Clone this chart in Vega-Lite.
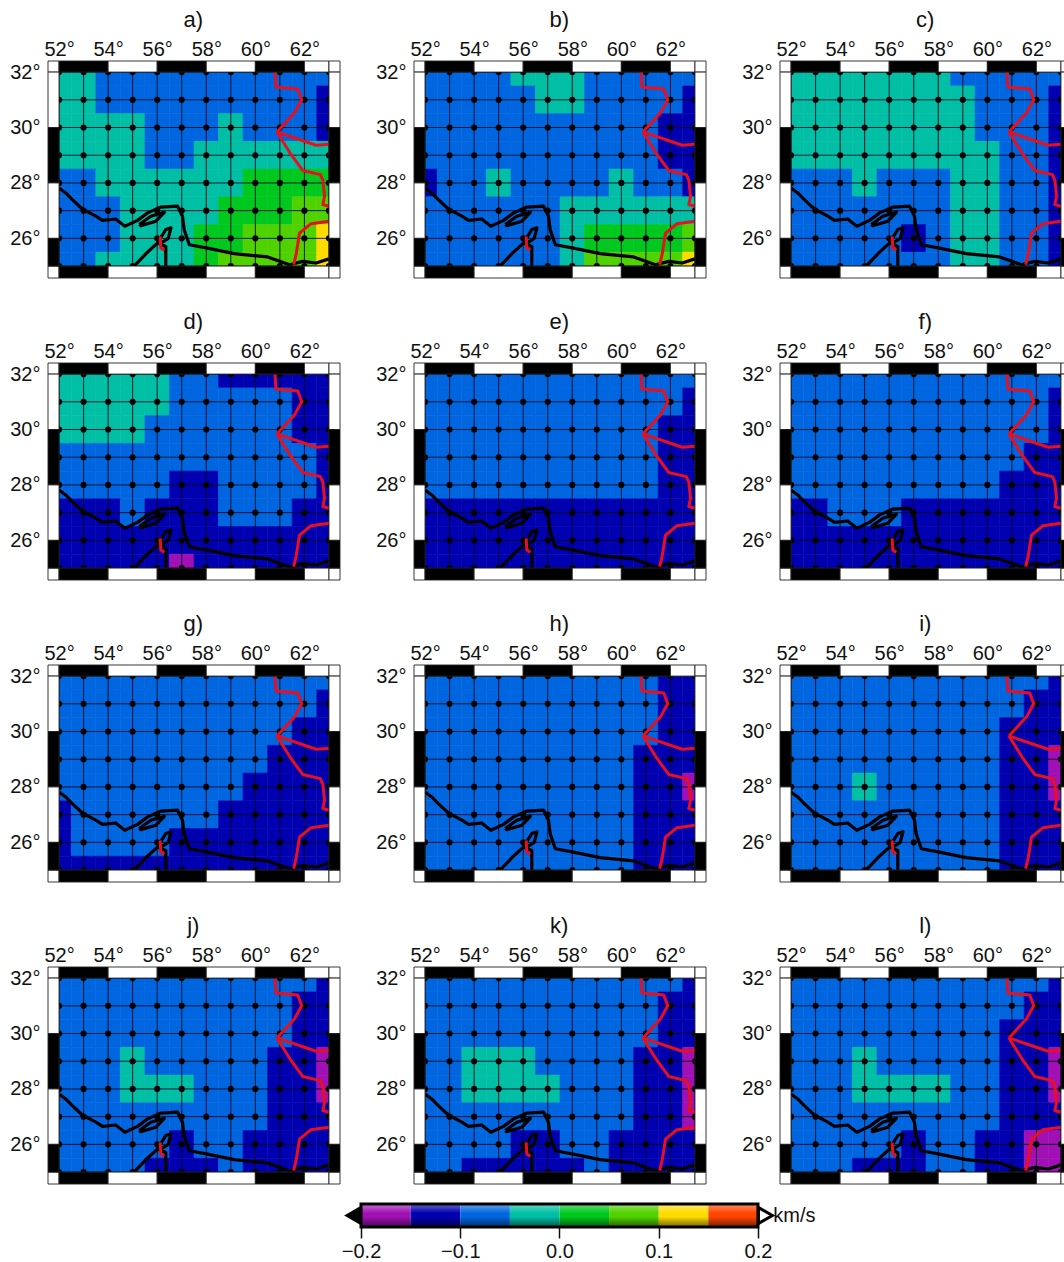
{"$schema":"https://vega.github.io/schema/vega-lite/v6.json","padding":{"left":9,"top":7,"right":0,"bottom":0},"background":"white","spacing":16,
"config":{"view":{"stroke":null},"font":"Liberation Sans"},
"datasets":{
"gx":[{"g":52},{"g":53},{"g":54},{"g":55},{"g":56},{"g":57},{"g":58},{"g":59},{"g":60},{"g":61},{"g":62},{"g":63}],
"gy":[{"g":25},{"g":26},{"g":27},{"g":28},{"g":29},{"g":30},{"g":31},{"g":32}],
"coast":[{"s":"m","o":1,"lon":52.0,"lat":27.82},{"s":"m","o":2,"lon":52.27,"lat":27.64},{"s":"m","o":3,"lon":52.54,"lat":27.4},{"s":"m","o":4,"lon":52.95,"lat":27.06},{"s":"m","o":5,"lon":53.5,"lat":26.8},{"s":"m","o":6,"lon":53.77,"lat":26.65},{"s":"m","o":7,"lon":54.31,"lat":26.7},{"s":"m","o":8,"lon":54.68,"lat":26.44},{"s":"m","o":9,"lon":55.2,"lat":26.65},{"s":"m","o":10,"lon":55.61,"lat":26.92},{"s":"m","o":11,"lon":56.15,"lat":27.13},{"s":"m","o":12,"lon":56.83,"lat":27.16},{"s":"m","o":13,"lon":57.03,"lat":26.8},{"s":"m","o":14,"lon":57.1,"lat":26.31},{"s":"m","o":15,"lon":57.31,"lat":25.77},{"s":"m","o":16,"lon":58.05,"lat":25.65},{"s":"m","o":17,"lon":59.14,"lat":25.45},{"s":"m","o":18,"lon":60.5,"lat":25.33},{"s":"m","o":19,"lon":61.39,"lat":25.05},{"s":"m","o":20,"lon":61.93,"lat":25.17},{"s":"m","o":21,"lon":62.48,"lat":25.11},{"s":"m","o":22,"lon":63.0,"lat":25.26},
{"s":"q","o":1,"lon":55.27,"lat":26.5},{"s":"q","o":2,"lon":55.74,"lat":26.8},{"s":"q","o":3,"lon":56.29,"lat":26.94},{"s":"q","o":4,"lon":55.95,"lat":26.62},{"s":"q","o":5,"lon":55.33,"lat":26.46},{"s":"q","o":6,"lon":55.27,"lat":26.5},
{"s":"o","o":1,"lon":55.06,"lat":25.0},{"s":"o","o":2,"lon":55.6,"lat":25.5},{"s":"o","o":3,"lon":56.01,"lat":25.83},{"s":"o","o":4,"lon":56.35,"lat":26.32},{"s":"o","o":5,"lon":56.56,"lat":26.38},{"s":"o","o":6,"lon":56.45,"lat":26.0},{"s":"o","o":7,"lon":56.1,"lat":25.8},{"s":"o","o":8,"lon":56.35,"lat":25.71},{"s":"o","o":9,"lon":56.35,"lat":25.0}],
"border":[{"s":"u","o":1,"lon":60.8,"lat":32.0},{"s":"u","o":2,"lon":60.84,"lat":31.46},{"s":"u","o":3,"lon":61.73,"lat":31.39},{"s":"u","o":4,"lon":61.89,"lat":31.0},{"s":"u","o":5,"lon":61.59,"lat":30.52},{"s":"u","o":6,"lon":60.88,"lat":29.84},
{"s":"e","o":1,"lon":60.88,"lat":29.84},{"s":"e","o":2,"lon":62.48,"lat":29.36},{"s":"e","o":3,"lon":63.0,"lat":29.4},
{"s":"p","o":1,"lon":60.88,"lat":29.84},{"s":"p","o":2,"lon":61.46,"lat":29.02},{"s":"p","o":3,"lon":61.93,"lat":28.45},{"s":"p","o":4,"lon":62.65,"lat":28.3},{"s":"p","o":5,"lon":62.75,"lat":28.1},{"s":"p","o":6,"lon":62.82,"lat":27.52},{"s":"p","o":7,"lon":62.75,"lat":27.22},{"s":"p","o":8,"lon":63.0,"lat":27.16},
{"s":"l","o":1,"lon":63.0,"lat":26.62},{"s":"l","o":2,"lon":62.27,"lat":26.53},{"s":"l","o":3,"lon":61.8,"lat":26.19},{"s":"l","o":4,"lon":61.66,"lat":25.41},{"s":"l","o":5,"lon":61.56,"lat":25.05},
{"s":"h","o":1,"lon":56.12,"lat":26.07},{"s":"h","o":2,"lon":56.15,"lat":25.65},{"s":"h","o":3,"lon":56.29,"lat":25.57}],
"frame":[{"a":51.55,"b":52,"c":32,"d":32.4,"f":"white"},{"a":52,"b":54,"c":32,"d":32.4,"f":"black"},{"a":54,"b":56,"c":32,"d":32.4,"f":"white"},{"a":56,"b":58,"c":32,"d":32.4,"f":"black"},{"a":58,"b":60,"c":32,"d":32.4,"f":"white"},{"a":60,"b":62,"c":32,"d":32.4,"f":"black"},{"a":62,"b":63,"c":32,"d":32.4,"f":"white"},{"a":63,"b":63.45,"c":32,"d":32.4,"f":"white"},
{"a":51.55,"b":52,"c":24.57,"d":25,"f":"white"},{"a":52,"b":54,"c":24.57,"d":25,"f":"black"},{"a":54,"b":56,"c":24.57,"d":25,"f":"white"},{"a":56,"b":58,"c":24.57,"d":25,"f":"black"},{"a":58,"b":60,"c":24.57,"d":25,"f":"white"},{"a":60,"b":62,"c":24.57,"d":25,"f":"black"},{"a":62,"b":63,"c":24.57,"d":25,"f":"white"},{"a":63,"b":63.45,"c":24.57,"d":25,"f":"white"},
{"a":51.55,"b":52,"c":30,"d":32,"f":"white"},{"a":51.55,"b":52,"c":28,"d":30,"f":"black"},{"a":51.55,"b":52,"c":26,"d":28,"f":"white"},{"a":51.55,"b":52,"c":25,"d":26,"f":"black"},
{"a":63,"b":63.45,"c":30,"d":32,"f":"white"},{"a":63,"b":63.45,"c":28,"d":30,"f":"black"},{"a":63,"b":63.45,"c":26,"d":28,"f":"white"},{"a":63,"b":63.45,"c":25,"d":26,"f":"black"}],
"bar":[{"lo":-0.2,"hi":-0.15,"v":-0.175},{"lo":-0.15,"hi":-0.1,"v":-0.125},{"lo":-0.1,"hi":-0.05,"v":-0.075},{"lo":-0.05,"hi":0,"v":-0.025},{"lo":0,"hi":0.05,"v":0.025},{"lo":0.05,"hi":0.1,"v":0.075},{"lo":0.1,"hi":0.15,"v":0.125},{"lo":0.15,"hi":0.2,"v":0.175}]
},
"vconcat":[
{"data":{"values":[
{"p":"a","lon":52,"lat":32,"v":-0.025},{"p":"a","lon":53,"lat":32,"v":-0.025},{"p":"a","lon":54,"lat":32,"v":-0.075},{"p":"a","lon":55,"lat":32,"v":-0.075},{"p":"a","lon":56,"lat":32,"v":-0.075},{"p":"a","lon":57,"lat":32,"v":-0.075},{"p":"a","lon":58,"lat":32,"v":-0.075},{"p":"a","lon":59,"lat":32,"v":-0.075},{"p":"a","lon":60,"lat":32,"v":-0.075},{"p":"a","lon":61,"lat":32,"v":-0.075},{"p":"a","lon":62,"lat":32,"v":-0.075},{"p":"a","lon":63,"lat":32,"v":-0.075},
{"p":"a","lon":52,"lat":31,"v":-0.025},{"p":"a","lon":53,"lat":31,"v":-0.025},{"p":"a","lon":54,"lat":31,"v":-0.075},{"p":"a","lon":55,"lat":31,"v":-0.075},{"p":"a","lon":56,"lat":31,"v":-0.075},{"p":"a","lon":57,"lat":31,"v":-0.075},{"p":"a","lon":58,"lat":31,"v":-0.075},{"p":"a","lon":59,"lat":31,"v":-0.075},{"p":"a","lon":60,"lat":31,"v":-0.075},{"p":"a","lon":61,"lat":31,"v":-0.075},{"p":"a","lon":62,"lat":31,"v":-0.075},{"p":"a","lon":63,"lat":31,"v":-0.125},
{"p":"a","lon":52,"lat":30,"v":-0.025},{"p":"a","lon":53,"lat":30,"v":-0.025},{"p":"a","lon":54,"lat":30,"v":-0.025},{"p":"a","lon":55,"lat":30,"v":-0.025},{"p":"a","lon":56,"lat":30,"v":-0.075},{"p":"a","lon":57,"lat":30,"v":-0.075},{"p":"a","lon":58,"lat":30,"v":-0.075},{"p":"a","lon":59,"lat":30,"v":-0.025},{"p":"a","lon":60,"lat":30,"v":-0.075},{"p":"a","lon":61,"lat":30,"v":-0.075},{"p":"a","lon":62,"lat":30,"v":-0.075},{"p":"a","lon":63,"lat":30,"v":-0.125},
{"p":"a","lon":52,"lat":29,"v":-0.025},{"p":"a","lon":53,"lat":29,"v":-0.025},{"p":"a","lon":54,"lat":29,"v":-0.025},{"p":"a","lon":55,"lat":29,"v":-0.025},{"p":"a","lon":56,"lat":29,"v":-0.075},{"p":"a","lon":57,"lat":29,"v":-0.075},{"p":"a","lon":58,"lat":29,"v":-0.025},{"p":"a","lon":59,"lat":29,"v":-0.025},{"p":"a","lon":60,"lat":29,"v":-0.025},{"p":"a","lon":61,"lat":29,"v":-0.025},{"p":"a","lon":62,"lat":29,"v":-0.025},{"p":"a","lon":63,"lat":29,"v":-0.025},
{"p":"a","lon":52,"lat":28,"v":-0.075},{"p":"a","lon":53,"lat":28,"v":-0.075},{"p":"a","lon":54,"lat":28,"v":-0.025},{"p":"a","lon":55,"lat":28,"v":-0.025},{"p":"a","lon":56,"lat":28,"v":-0.025},{"p":"a","lon":57,"lat":28,"v":-0.025},{"p":"a","lon":58,"lat":28,"v":-0.025},{"p":"a","lon":59,"lat":28,"v":-0.025},{"p":"a","lon":60,"lat":28,"v":0.025},{"p":"a","lon":61,"lat":28,"v":0.025},{"p":"a","lon":62,"lat":28,"v":0.025},{"p":"a","lon":63,"lat":28,"v":0.025},
{"p":"a","lon":52,"lat":27,"v":-0.075},{"p":"a","lon":53,"lat":27,"v":-0.075},{"p":"a","lon":54,"lat":27,"v":-0.075},{"p":"a","lon":55,"lat":27,"v":-0.025},{"p":"a","lon":56,"lat":27,"v":-0.025},{"p":"a","lon":57,"lat":27,"v":-0.025},{"p":"a","lon":58,"lat":27,"v":-0.025},{"p":"a","lon":59,"lat":27,"v":0.025},{"p":"a","lon":60,"lat":27,"v":0.025},{"p":"a","lon":61,"lat":27,"v":0.025},{"p":"a","lon":62,"lat":27,"v":0.075},{"p":"a","lon":63,"lat":27,"v":0.075},
{"p":"a","lon":52,"lat":26,"v":-0.075},{"p":"a","lon":53,"lat":26,"v":-0.075},{"p":"a","lon":54,"lat":26,"v":-0.075},{"p":"a","lon":55,"lat":26,"v":-0.025},{"p":"a","lon":56,"lat":26,"v":-0.025},{"p":"a","lon":57,"lat":26,"v":-0.025},{"p":"a","lon":58,"lat":26,"v":0.025},{"p":"a","lon":59,"lat":26,"v":0.025},{"p":"a","lon":60,"lat":26,"v":0.075},{"p":"a","lon":61,"lat":26,"v":0.075},{"p":"a","lon":62,"lat":26,"v":0.075},{"p":"a","lon":63,"lat":26,"v":0.125},
{"p":"a","lon":52,"lat":25,"v":-0.075},{"p":"a","lon":53,"lat":25,"v":-0.075},{"p":"a","lon":54,"lat":25,"v":-0.025},{"p":"a","lon":55,"lat":25,"v":-0.025},{"p":"a","lon":56,"lat":25,"v":-0.025},{"p":"a","lon":57,"lat":25,"v":-0.025},{"p":"a","lon":58,"lat":25,"v":0.025},{"p":"a","lon":59,"lat":25,"v":0.075},{"p":"a","lon":60,"lat":25,"v":0.075},{"p":"a","lon":61,"lat":25,"v":0.075},{"p":"a","lon":62,"lat":25,"v":0.075},{"p":"a","lon":63,"lat":25,"v":0.125},
{"p":"b","lon":52,"lat":32,"v":-0.075},{"p":"b","lon":53,"lat":32,"v":-0.075},{"p":"b","lon":54,"lat":32,"v":-0.075},{"p":"b","lon":55,"lat":32,"v":-0.075},{"p":"b","lon":56,"lat":32,"v":-0.025},{"p":"b","lon":57,"lat":32,"v":-0.025},{"p":"b","lon":58,"lat":32,"v":-0.025},{"p":"b","lon":59,"lat":32,"v":-0.075},{"p":"b","lon":60,"lat":32,"v":-0.075},{"p":"b","lon":61,"lat":32,"v":-0.075},{"p":"b","lon":62,"lat":32,"v":-0.075},{"p":"b","lon":63,"lat":32,"v":-0.075},
{"p":"b","lon":52,"lat":31,"v":-0.075},{"p":"b","lon":53,"lat":31,"v":-0.075},{"p":"b","lon":54,"lat":31,"v":-0.075},{"p":"b","lon":55,"lat":31,"v":-0.075},{"p":"b","lon":56,"lat":31,"v":-0.075},{"p":"b","lon":57,"lat":31,"v":-0.025},{"p":"b","lon":58,"lat":31,"v":-0.025},{"p":"b","lon":59,"lat":31,"v":-0.075},{"p":"b","lon":60,"lat":31,"v":-0.075},{"p":"b","lon":61,"lat":31,"v":-0.075},{"p":"b","lon":62,"lat":31,"v":-0.075},{"p":"b","lon":63,"lat":31,"v":-0.125},
{"p":"b","lon":52,"lat":30,"v":-0.075},{"p":"b","lon":53,"lat":30,"v":-0.075},{"p":"b","lon":54,"lat":30,"v":-0.075},{"p":"b","lon":55,"lat":30,"v":-0.075},{"p":"b","lon":56,"lat":30,"v":-0.075},{"p":"b","lon":57,"lat":30,"v":-0.075},{"p":"b","lon":58,"lat":30,"v":-0.075},{"p":"b","lon":59,"lat":30,"v":-0.075},{"p":"b","lon":60,"lat":30,"v":-0.075},{"p":"b","lon":61,"lat":30,"v":-0.075},{"p":"b","lon":62,"lat":30,"v":-0.125},{"p":"b","lon":63,"lat":30,"v":-0.125},
{"p":"b","lon":52,"lat":29,"v":-0.075},{"p":"b","lon":53,"lat":29,"v":-0.075},{"p":"b","lon":54,"lat":29,"v":-0.075},{"p":"b","lon":55,"lat":29,"v":-0.075},{"p":"b","lon":56,"lat":29,"v":-0.075},{"p":"b","lon":57,"lat":29,"v":-0.075},{"p":"b","lon":58,"lat":29,"v":-0.075},{"p":"b","lon":59,"lat":29,"v":-0.075},{"p":"b","lon":60,"lat":29,"v":-0.075},{"p":"b","lon":61,"lat":29,"v":-0.075},{"p":"b","lon":62,"lat":29,"v":-0.125},{"p":"b","lon":63,"lat":29,"v":-0.125},
{"p":"b","lon":52,"lat":28,"v":-0.125},{"p":"b","lon":53,"lat":28,"v":-0.075},{"p":"b","lon":54,"lat":28,"v":-0.075},{"p":"b","lon":55,"lat":28,"v":-0.025},{"p":"b","lon":56,"lat":28,"v":-0.075},{"p":"b","lon":57,"lat":28,"v":-0.075},{"p":"b","lon":58,"lat":28,"v":-0.075},{"p":"b","lon":59,"lat":28,"v":-0.075},{"p":"b","lon":60,"lat":28,"v":-0.025},{"p":"b","lon":61,"lat":28,"v":-0.075},{"p":"b","lon":62,"lat":28,"v":-0.075},{"p":"b","lon":63,"lat":28,"v":-0.125},
{"p":"b","lon":52,"lat":27,"v":-0.075},{"p":"b","lon":53,"lat":27,"v":-0.075},{"p":"b","lon":54,"lat":27,"v":-0.075},{"p":"b","lon":55,"lat":27,"v":-0.075},{"p":"b","lon":56,"lat":27,"v":-0.075},{"p":"b","lon":57,"lat":27,"v":-0.075},{"p":"b","lon":58,"lat":27,"v":-0.025},{"p":"b","lon":59,"lat":27,"v":-0.025},{"p":"b","lon":60,"lat":27,"v":-0.025},{"p":"b","lon":61,"lat":27,"v":-0.025},{"p":"b","lon":62,"lat":27,"v":-0.025},{"p":"b","lon":63,"lat":27,"v":-0.025},
{"p":"b","lon":52,"lat":26,"v":-0.075},{"p":"b","lon":53,"lat":26,"v":-0.075},{"p":"b","lon":54,"lat":26,"v":-0.075},{"p":"b","lon":55,"lat":26,"v":-0.075},{"p":"b","lon":56,"lat":26,"v":-0.075},{"p":"b","lon":57,"lat":26,"v":-0.075},{"p":"b","lon":58,"lat":26,"v":-0.025},{"p":"b","lon":59,"lat":26,"v":0.025},{"p":"b","lon":60,"lat":26,"v":0.025},{"p":"b","lon":61,"lat":26,"v":0.025},{"p":"b","lon":62,"lat":26,"v":0.025},{"p":"b","lon":63,"lat":26,"v":0.075},
{"p":"b","lon":52,"lat":25,"v":-0.075},{"p":"b","lon":53,"lat":25,"v":-0.075},{"p":"b","lon":54,"lat":25,"v":-0.075},{"p":"b","lon":55,"lat":25,"v":-0.075},{"p":"b","lon":56,"lat":25,"v":-0.075},{"p":"b","lon":57,"lat":25,"v":-0.075},{"p":"b","lon":58,"lat":25,"v":-0.025},{"p":"b","lon":59,"lat":25,"v":0.075},{"p":"b","lon":60,"lat":25,"v":0.075},{"p":"b","lon":61,"lat":25,"v":0.075},{"p":"b","lon":62,"lat":25,"v":0.075},{"p":"b","lon":63,"lat":25,"v":0.125},
{"p":"c","lon":52,"lat":32,"v":-0.025},{"p":"c","lon":53,"lat":32,"v":-0.025},{"p":"c","lon":54,"lat":32,"v":-0.025},{"p":"c","lon":55,"lat":32,"v":-0.025},{"p":"c","lon":56,"lat":32,"v":-0.025},{"p":"c","lon":57,"lat":32,"v":-0.025},{"p":"c","lon":58,"lat":32,"v":-0.025},{"p":"c","lon":59,"lat":32,"v":-0.075},{"p":"c","lon":60,"lat":32,"v":-0.075},{"p":"c","lon":61,"lat":32,"v":-0.075},{"p":"c","lon":62,"lat":32,"v":-0.075},{"p":"c","lon":63,"lat":32,"v":-0.075},
{"p":"c","lon":52,"lat":31,"v":-0.025},{"p":"c","lon":53,"lat":31,"v":-0.025},{"p":"c","lon":54,"lat":31,"v":-0.025},{"p":"c","lon":55,"lat":31,"v":-0.025},{"p":"c","lon":56,"lat":31,"v":-0.025},{"p":"c","lon":57,"lat":31,"v":-0.025},{"p":"c","lon":58,"lat":31,"v":-0.025},{"p":"c","lon":59,"lat":31,"v":-0.025},{"p":"c","lon":60,"lat":31,"v":-0.075},{"p":"c","lon":61,"lat":31,"v":-0.075},{"p":"c","lon":62,"lat":31,"v":-0.075},{"p":"c","lon":63,"lat":31,"v":-0.125},
{"p":"c","lon":52,"lat":30,"v":-0.025},{"p":"c","lon":53,"lat":30,"v":-0.025},{"p":"c","lon":54,"lat":30,"v":-0.025},{"p":"c","lon":55,"lat":30,"v":-0.025},{"p":"c","lon":56,"lat":30,"v":-0.025},{"p":"c","lon":57,"lat":30,"v":-0.025},{"p":"c","lon":58,"lat":30,"v":-0.025},{"p":"c","lon":59,"lat":30,"v":-0.025},{"p":"c","lon":60,"lat":30,"v":-0.075},{"p":"c","lon":61,"lat":30,"v":-0.075},{"p":"c","lon":62,"lat":30,"v":-0.075},{"p":"c","lon":63,"lat":30,"v":-0.125},
{"p":"c","lon":52,"lat":29,"v":-0.025},{"p":"c","lon":53,"lat":29,"v":-0.025},{"p":"c","lon":54,"lat":29,"v":-0.025},{"p":"c","lon":55,"lat":29,"v":-0.025},{"p":"c","lon":56,"lat":29,"v":-0.025},{"p":"c","lon":57,"lat":29,"v":-0.025},{"p":"c","lon":58,"lat":29,"v":-0.025},{"p":"c","lon":59,"lat":29,"v":-0.025},{"p":"c","lon":60,"lat":29,"v":-0.025},{"p":"c","lon":61,"lat":29,"v":-0.075},{"p":"c","lon":62,"lat":29,"v":-0.075},{"p":"c","lon":63,"lat":29,"v":-0.125},
{"p":"c","lon":52,"lat":28,"v":-0.075},{"p":"c","lon":53,"lat":28,"v":-0.075},{"p":"c","lon":54,"lat":28,"v":-0.075},{"p":"c","lon":55,"lat":28,"v":-0.025},{"p":"c","lon":56,"lat":28,"v":-0.075},{"p":"c","lon":57,"lat":28,"v":-0.075},{"p":"c","lon":58,"lat":28,"v":-0.075},{"p":"c","lon":59,"lat":28,"v":-0.025},{"p":"c","lon":60,"lat":28,"v":-0.025},{"p":"c","lon":61,"lat":28,"v":-0.075},{"p":"c","lon":62,"lat":28,"v":-0.075},{"p":"c","lon":63,"lat":28,"v":-0.125},
{"p":"c","lon":52,"lat":27,"v":-0.075},{"p":"c","lon":53,"lat":27,"v":-0.075},{"p":"c","lon":54,"lat":27,"v":-0.075},{"p":"c","lon":55,"lat":27,"v":-0.075},{"p":"c","lon":56,"lat":27,"v":-0.075},{"p":"c","lon":57,"lat":27,"v":-0.075},{"p":"c","lon":58,"lat":27,"v":-0.075},{"p":"c","lon":59,"lat":27,"v":-0.025},{"p":"c","lon":60,"lat":27,"v":-0.025},{"p":"c","lon":61,"lat":27,"v":-0.075},{"p":"c","lon":62,"lat":27,"v":-0.075},{"p":"c","lon":63,"lat":27,"v":-0.125},
{"p":"c","lon":52,"lat":26,"v":-0.075},{"p":"c","lon":53,"lat":26,"v":-0.075},{"p":"c","lon":54,"lat":26,"v":-0.075},{"p":"c","lon":55,"lat":26,"v":-0.075},{"p":"c","lon":56,"lat":26,"v":-0.075},{"p":"c","lon":57,"lat":26,"v":-0.125},{"p":"c","lon":58,"lat":26,"v":-0.075},{"p":"c","lon":59,"lat":26,"v":-0.025},{"p":"c","lon":60,"lat":26,"v":-0.025},{"p":"c","lon":61,"lat":26,"v":-0.075},{"p":"c","lon":62,"lat":26,"v":-0.075},{"p":"c","lon":63,"lat":26,"v":-0.125},
{"p":"c","lon":52,"lat":25,"v":-0.075},{"p":"c","lon":53,"lat":25,"v":-0.075},{"p":"c","lon":54,"lat":25,"v":-0.075},{"p":"c","lon":55,"lat":25,"v":-0.075},{"p":"c","lon":56,"lat":25,"v":-0.075},{"p":"c","lon":57,"lat":25,"v":-0.075},{"p":"c","lon":58,"lat":25,"v":-0.075},{"p":"c","lon":59,"lat":25,"v":-0.025},{"p":"c","lon":60,"lat":25,"v":-0.025},{"p":"c","lon":61,"lat":25,"v":-0.075},{"p":"c","lon":62,"lat":25,"v":-0.075},{"p":"c","lon":63,"lat":25,"v":-0.125},
{"p":"d","lon":52,"lat":32,"v":-0.025},{"p":"d","lon":53,"lat":32,"v":-0.025},{"p":"d","lon":54,"lat":32,"v":-0.025},{"p":"d","lon":55,"lat":32,"v":-0.025},{"p":"d","lon":56,"lat":32,"v":-0.025},{"p":"d","lon":57,"lat":32,"v":-0.075},{"p":"d","lon":58,"lat":32,"v":-0.075},{"p":"d","lon":59,"lat":32,"v":-0.125},{"p":"d","lon":60,"lat":32,"v":-0.125},{"p":"d","lon":61,"lat":32,"v":-0.125},{"p":"d","lon":62,"lat":32,"v":-0.125},{"p":"d","lon":63,"lat":32,"v":-0.125},
{"p":"d","lon":52,"lat":31,"v":-0.025},{"p":"d","lon":53,"lat":31,"v":-0.025},{"p":"d","lon":54,"lat":31,"v":-0.025},{"p":"d","lon":55,"lat":31,"v":-0.025},{"p":"d","lon":56,"lat":31,"v":-0.025},{"p":"d","lon":57,"lat":31,"v":-0.075},{"p":"d","lon":58,"lat":31,"v":-0.075},{"p":"d","lon":59,"lat":31,"v":-0.075},{"p":"d","lon":60,"lat":31,"v":-0.075},{"p":"d","lon":61,"lat":31,"v":-0.075},{"p":"d","lon":62,"lat":31,"v":-0.125},{"p":"d","lon":63,"lat":31,"v":-0.125},
{"p":"d","lon":52,"lat":30,"v":-0.025},{"p":"d","lon":53,"lat":30,"v":-0.025},{"p":"d","lon":54,"lat":30,"v":-0.025},{"p":"d","lon":55,"lat":30,"v":-0.025},{"p":"d","lon":56,"lat":30,"v":-0.075},{"p":"d","lon":57,"lat":30,"v":-0.075},{"p":"d","lon":58,"lat":30,"v":-0.075},{"p":"d","lon":59,"lat":30,"v":-0.075},{"p":"d","lon":60,"lat":30,"v":-0.075},{"p":"d","lon":61,"lat":30,"v":-0.075},{"p":"d","lon":62,"lat":30,"v":-0.125},{"p":"d","lon":63,"lat":30,"v":-0.125},
{"p":"d","lon":52,"lat":29,"v":-0.075},{"p":"d","lon":53,"lat":29,"v":-0.075},{"p":"d","lon":54,"lat":29,"v":-0.075},{"p":"d","lon":55,"lat":29,"v":-0.075},{"p":"d","lon":56,"lat":29,"v":-0.075},{"p":"d","lon":57,"lat":29,"v":-0.075},{"p":"d","lon":58,"lat":29,"v":-0.075},{"p":"d","lon":59,"lat":29,"v":-0.075},{"p":"d","lon":60,"lat":29,"v":-0.075},{"p":"d","lon":61,"lat":29,"v":-0.075},{"p":"d","lon":62,"lat":29,"v":-0.075},{"p":"d","lon":63,"lat":29,"v":-0.125},
{"p":"d","lon":52,"lat":28,"v":-0.075},{"p":"d","lon":53,"lat":28,"v":-0.075},{"p":"d","lon":54,"lat":28,"v":-0.075},{"p":"d","lon":55,"lat":28,"v":-0.075},{"p":"d","lon":56,"lat":28,"v":-0.075},{"p":"d","lon":57,"lat":28,"v":-0.125},{"p":"d","lon":58,"lat":28,"v":-0.125},{"p":"d","lon":59,"lat":28,"v":-0.075},{"p":"d","lon":60,"lat":28,"v":-0.075},{"p":"d","lon":61,"lat":28,"v":-0.075},{"p":"d","lon":62,"lat":28,"v":-0.075},{"p":"d","lon":63,"lat":28,"v":-0.125},
{"p":"d","lon":52,"lat":27,"v":-0.125},{"p":"d","lon":53,"lat":27,"v":-0.125},{"p":"d","lon":54,"lat":27,"v":-0.125},{"p":"d","lon":55,"lat":27,"v":-0.075},{"p":"d","lon":56,"lat":27,"v":-0.125},{"p":"d","lon":57,"lat":27,"v":-0.125},{"p":"d","lon":58,"lat":27,"v":-0.125},{"p":"d","lon":59,"lat":27,"v":-0.075},{"p":"d","lon":60,"lat":27,"v":-0.075},{"p":"d","lon":61,"lat":27,"v":-0.075},{"p":"d","lon":62,"lat":27,"v":-0.125},{"p":"d","lon":63,"lat":27,"v":-0.125},
{"p":"d","lon":52,"lat":26,"v":-0.125},{"p":"d","lon":53,"lat":26,"v":-0.125},{"p":"d","lon":54,"lat":26,"v":-0.125},{"p":"d","lon":55,"lat":26,"v":-0.125},{"p":"d","lon":56,"lat":26,"v":-0.125},{"p":"d","lon":57,"lat":26,"v":-0.125},{"p":"d","lon":58,"lat":26,"v":-0.125},{"p":"d","lon":59,"lat":26,"v":-0.125},{"p":"d","lon":60,"lat":26,"v":-0.125},{"p":"d","lon":61,"lat":26,"v":-0.125},{"p":"d","lon":62,"lat":26,"v":-0.125},{"p":"d","lon":63,"lat":26,"v":-0.125},
{"p":"d","lon":52,"lat":25,"v":-0.125},{"p":"d","lon":53,"lat":25,"v":-0.125},{"p":"d","lon":54,"lat":25,"v":-0.125},{"p":"d","lon":55,"lat":25,"v":-0.125},{"p":"d","lon":56,"lat":25,"v":-0.125},{"p":"d","lon":57,"lat":25,"v":-0.175},{"p":"d","lon":58,"lat":25,"v":-0.125},{"p":"d","lon":59,"lat":25,"v":-0.125},{"p":"d","lon":60,"lat":25,"v":-0.125},{"p":"d","lon":61,"lat":25,"v":-0.125},{"p":"d","lon":62,"lat":25,"v":-0.125},{"p":"d","lon":63,"lat":25,"v":-0.125},
{"p":"e","lon":52,"lat":32,"v":-0.075},{"p":"e","lon":53,"lat":32,"v":-0.075},{"p":"e","lon":54,"lat":32,"v":-0.075},{"p":"e","lon":55,"lat":32,"v":-0.075},{"p":"e","lon":56,"lat":32,"v":-0.075},{"p":"e","lon":57,"lat":32,"v":-0.075},{"p":"e","lon":58,"lat":32,"v":-0.075},{"p":"e","lon":59,"lat":32,"v":-0.075},{"p":"e","lon":60,"lat":32,"v":-0.075},{"p":"e","lon":61,"lat":32,"v":-0.075},{"p":"e","lon":62,"lat":32,"v":-0.075},{"p":"e","lon":63,"lat":32,"v":-0.075},
{"p":"e","lon":52,"lat":31,"v":-0.075},{"p":"e","lon":53,"lat":31,"v":-0.075},{"p":"e","lon":54,"lat":31,"v":-0.075},{"p":"e","lon":55,"lat":31,"v":-0.075},{"p":"e","lon":56,"lat":31,"v":-0.075},{"p":"e","lon":57,"lat":31,"v":-0.075},{"p":"e","lon":58,"lat":31,"v":-0.075},{"p":"e","lon":59,"lat":31,"v":-0.075},{"p":"e","lon":60,"lat":31,"v":-0.075},{"p":"e","lon":61,"lat":31,"v":-0.075},{"p":"e","lon":62,"lat":31,"v":-0.075},{"p":"e","lon":63,"lat":31,"v":-0.125},
{"p":"e","lon":52,"lat":30,"v":-0.075},{"p":"e","lon":53,"lat":30,"v":-0.075},{"p":"e","lon":54,"lat":30,"v":-0.075},{"p":"e","lon":55,"lat":30,"v":-0.075},{"p":"e","lon":56,"lat":30,"v":-0.075},{"p":"e","lon":57,"lat":30,"v":-0.075},{"p":"e","lon":58,"lat":30,"v":-0.075},{"p":"e","lon":59,"lat":30,"v":-0.075},{"p":"e","lon":60,"lat":30,"v":-0.075},{"p":"e","lon":61,"lat":30,"v":-0.075},{"p":"e","lon":62,"lat":30,"v":-0.125},{"p":"e","lon":63,"lat":30,"v":-0.125},
{"p":"e","lon":52,"lat":29,"v":-0.075},{"p":"e","lon":53,"lat":29,"v":-0.075},{"p":"e","lon":54,"lat":29,"v":-0.075},{"p":"e","lon":55,"lat":29,"v":-0.075},{"p":"e","lon":56,"lat":29,"v":-0.075},{"p":"e","lon":57,"lat":29,"v":-0.075},{"p":"e","lon":58,"lat":29,"v":-0.075},{"p":"e","lon":59,"lat":29,"v":-0.075},{"p":"e","lon":60,"lat":29,"v":-0.075},{"p":"e","lon":61,"lat":29,"v":-0.075},{"p":"e","lon":62,"lat":29,"v":-0.125},{"p":"e","lon":63,"lat":29,"v":-0.125},
{"p":"e","lon":52,"lat":28,"v":-0.075},{"p":"e","lon":53,"lat":28,"v":-0.075},{"p":"e","lon":54,"lat":28,"v":-0.075},{"p":"e","lon":55,"lat":28,"v":-0.075},{"p":"e","lon":56,"lat":28,"v":-0.075},{"p":"e","lon":57,"lat":28,"v":-0.075},{"p":"e","lon":58,"lat":28,"v":-0.075},{"p":"e","lon":59,"lat":28,"v":-0.075},{"p":"e","lon":60,"lat":28,"v":-0.075},{"p":"e","lon":61,"lat":28,"v":-0.075},{"p":"e","lon":62,"lat":28,"v":-0.125},{"p":"e","lon":63,"lat":28,"v":-0.125},
{"p":"e","lon":52,"lat":27,"v":-0.125},{"p":"e","lon":53,"lat":27,"v":-0.125},{"p":"e","lon":54,"lat":27,"v":-0.125},{"p":"e","lon":55,"lat":27,"v":-0.125},{"p":"e","lon":56,"lat":27,"v":-0.125},{"p":"e","lon":57,"lat":27,"v":-0.125},{"p":"e","lon":58,"lat":27,"v":-0.125},{"p":"e","lon":59,"lat":27,"v":-0.125},{"p":"e","lon":60,"lat":27,"v":-0.125},{"p":"e","lon":61,"lat":27,"v":-0.125},{"p":"e","lon":62,"lat":27,"v":-0.125},{"p":"e","lon":63,"lat":27,"v":-0.125},
{"p":"e","lon":52,"lat":26,"v":-0.125},{"p":"e","lon":53,"lat":26,"v":-0.125},{"p":"e","lon":54,"lat":26,"v":-0.125},{"p":"e","lon":55,"lat":26,"v":-0.125},{"p":"e","lon":56,"lat":26,"v":-0.125},{"p":"e","lon":57,"lat":26,"v":-0.125},{"p":"e","lon":58,"lat":26,"v":-0.125},{"p":"e","lon":59,"lat":26,"v":-0.125},{"p":"e","lon":60,"lat":26,"v":-0.125},{"p":"e","lon":61,"lat":26,"v":-0.125},{"p":"e","lon":62,"lat":26,"v":-0.125},{"p":"e","lon":63,"lat":26,"v":-0.125},
{"p":"e","lon":52,"lat":25,"v":-0.125},{"p":"e","lon":53,"lat":25,"v":-0.125},{"p":"e","lon":54,"lat":25,"v":-0.125},{"p":"e","lon":55,"lat":25,"v":-0.125},{"p":"e","lon":56,"lat":25,"v":-0.125},{"p":"e","lon":57,"lat":25,"v":-0.125},{"p":"e","lon":58,"lat":25,"v":-0.125},{"p":"e","lon":59,"lat":25,"v":-0.125},{"p":"e","lon":60,"lat":25,"v":-0.125},{"p":"e","lon":61,"lat":25,"v":-0.125},{"p":"e","lon":62,"lat":25,"v":-0.125},{"p":"e","lon":63,"lat":25,"v":-0.125},
{"p":"f","lon":52,"lat":32,"v":-0.075},{"p":"f","lon":53,"lat":32,"v":-0.075},{"p":"f","lon":54,"lat":32,"v":-0.075},{"p":"f","lon":55,"lat":32,"v":-0.075},{"p":"f","lon":56,"lat":32,"v":-0.075},{"p":"f","lon":57,"lat":32,"v":-0.075},{"p":"f","lon":58,"lat":32,"v":-0.075},{"p":"f","lon":59,"lat":32,"v":-0.075},{"p":"f","lon":60,"lat":32,"v":-0.075},{"p":"f","lon":61,"lat":32,"v":-0.075},{"p":"f","lon":62,"lat":32,"v":-0.075},{"p":"f","lon":63,"lat":32,"v":-0.075},
{"p":"f","lon":52,"lat":31,"v":-0.075},{"p":"f","lon":53,"lat":31,"v":-0.075},{"p":"f","lon":54,"lat":31,"v":-0.075},{"p":"f","lon":55,"lat":31,"v":-0.075},{"p":"f","lon":56,"lat":31,"v":-0.075},{"p":"f","lon":57,"lat":31,"v":-0.075},{"p":"f","lon":58,"lat":31,"v":-0.075},{"p":"f","lon":59,"lat":31,"v":-0.075},{"p":"f","lon":60,"lat":31,"v":-0.075},{"p":"f","lon":61,"lat":31,"v":-0.075},{"p":"f","lon":62,"lat":31,"v":-0.075},{"p":"f","lon":63,"lat":31,"v":-0.125},
{"p":"f","lon":52,"lat":30,"v":-0.075},{"p":"f","lon":53,"lat":30,"v":-0.075},{"p":"f","lon":54,"lat":30,"v":-0.075},{"p":"f","lon":55,"lat":30,"v":-0.075},{"p":"f","lon":56,"lat":30,"v":-0.075},{"p":"f","lon":57,"lat":30,"v":-0.075},{"p":"f","lon":58,"lat":30,"v":-0.075},{"p":"f","lon":59,"lat":30,"v":-0.075},{"p":"f","lon":60,"lat":30,"v":-0.075},{"p":"f","lon":61,"lat":30,"v":-0.075},{"p":"f","lon":62,"lat":30,"v":-0.075},{"p":"f","lon":63,"lat":30,"v":-0.125},
{"p":"f","lon":52,"lat":29,"v":-0.075},{"p":"f","lon":53,"lat":29,"v":-0.075},{"p":"f","lon":54,"lat":29,"v":-0.075},{"p":"f","lon":55,"lat":29,"v":-0.075},{"p":"f","lon":56,"lat":29,"v":-0.075},{"p":"f","lon":57,"lat":29,"v":-0.075},{"p":"f","lon":58,"lat":29,"v":-0.075},{"p":"f","lon":59,"lat":29,"v":-0.075},{"p":"f","lon":60,"lat":29,"v":-0.075},{"p":"f","lon":61,"lat":29,"v":-0.075},{"p":"f","lon":62,"lat":29,"v":-0.125},{"p":"f","lon":63,"lat":29,"v":-0.125},
{"p":"f","lon":52,"lat":28,"v":-0.075},{"p":"f","lon":53,"lat":28,"v":-0.075},{"p":"f","lon":54,"lat":28,"v":-0.075},{"p":"f","lon":55,"lat":28,"v":-0.075},{"p":"f","lon":56,"lat":28,"v":-0.075},{"p":"f","lon":57,"lat":28,"v":-0.075},{"p":"f","lon":58,"lat":28,"v":-0.075},{"p":"f","lon":59,"lat":28,"v":-0.075},{"p":"f","lon":60,"lat":28,"v":-0.075},{"p":"f","lon":61,"lat":28,"v":-0.125},{"p":"f","lon":62,"lat":28,"v":-0.125},{"p":"f","lon":63,"lat":28,"v":-0.125},
{"p":"f","lon":52,"lat":27,"v":-0.125},{"p":"f","lon":53,"lat":27,"v":-0.125},{"p":"f","lon":54,"lat":27,"v":-0.075},{"p":"f","lon":55,"lat":27,"v":-0.075},{"p":"f","lon":56,"lat":27,"v":-0.075},{"p":"f","lon":57,"lat":27,"v":-0.125},{"p":"f","lon":58,"lat":27,"v":-0.125},{"p":"f","lon":59,"lat":27,"v":-0.125},{"p":"f","lon":60,"lat":27,"v":-0.125},{"p":"f","lon":61,"lat":27,"v":-0.125},{"p":"f","lon":62,"lat":27,"v":-0.125},{"p":"f","lon":63,"lat":27,"v":-0.125},
{"p":"f","lon":52,"lat":26,"v":-0.125},{"p":"f","lon":53,"lat":26,"v":-0.125},{"p":"f","lon":54,"lat":26,"v":-0.125},{"p":"f","lon":55,"lat":26,"v":-0.125},{"p":"f","lon":56,"lat":26,"v":-0.125},{"p":"f","lon":57,"lat":26,"v":-0.125},{"p":"f","lon":58,"lat":26,"v":-0.125},{"p":"f","lon":59,"lat":26,"v":-0.125},{"p":"f","lon":60,"lat":26,"v":-0.125},{"p":"f","lon":61,"lat":26,"v":-0.125},{"p":"f","lon":62,"lat":26,"v":-0.125},{"p":"f","lon":63,"lat":26,"v":-0.125},
{"p":"f","lon":52,"lat":25,"v":-0.125},{"p":"f","lon":53,"lat":25,"v":-0.125},{"p":"f","lon":54,"lat":25,"v":-0.125},{"p":"f","lon":55,"lat":25,"v":-0.125},{"p":"f","lon":56,"lat":25,"v":-0.125},{"p":"f","lon":57,"lat":25,"v":-0.125},{"p":"f","lon":58,"lat":25,"v":-0.125},{"p":"f","lon":59,"lat":25,"v":-0.125},{"p":"f","lon":60,"lat":25,"v":-0.125},{"p":"f","lon":61,"lat":25,"v":-0.125},{"p":"f","lon":62,"lat":25,"v":-0.125},{"p":"f","lon":63,"lat":25,"v":-0.125},
{"p":"g","lon":52,"lat":32,"v":-0.075},{"p":"g","lon":53,"lat":32,"v":-0.075},{"p":"g","lon":54,"lat":32,"v":-0.075},{"p":"g","lon":55,"lat":32,"v":-0.075},{"p":"g","lon":56,"lat":32,"v":-0.075},{"p":"g","lon":57,"lat":32,"v":-0.075},{"p":"g","lon":58,"lat":32,"v":-0.075},{"p":"g","lon":59,"lat":32,"v":-0.075},{"p":"g","lon":60,"lat":32,"v":-0.075},{"p":"g","lon":61,"lat":32,"v":-0.075},{"p":"g","lon":62,"lat":32,"v":-0.075},{"p":"g","lon":63,"lat":32,"v":-0.075},
{"p":"g","lon":52,"lat":31,"v":-0.075},{"p":"g","lon":53,"lat":31,"v":-0.075},{"p":"g","lon":54,"lat":31,"v":-0.075},{"p":"g","lon":55,"lat":31,"v":-0.075},{"p":"g","lon":56,"lat":31,"v":-0.075},{"p":"g","lon":57,"lat":31,"v":-0.075},{"p":"g","lon":58,"lat":31,"v":-0.075},{"p":"g","lon":59,"lat":31,"v":-0.075},{"p":"g","lon":60,"lat":31,"v":-0.075},{"p":"g","lon":61,"lat":31,"v":-0.075},{"p":"g","lon":62,"lat":31,"v":-0.075},{"p":"g","lon":63,"lat":31,"v":-0.125},
{"p":"g","lon":52,"lat":30,"v":-0.075},{"p":"g","lon":53,"lat":30,"v":-0.075},{"p":"g","lon":54,"lat":30,"v":-0.075},{"p":"g","lon":55,"lat":30,"v":-0.075},{"p":"g","lon":56,"lat":30,"v":-0.075},{"p":"g","lon":57,"lat":30,"v":-0.075},{"p":"g","lon":58,"lat":30,"v":-0.075},{"p":"g","lon":59,"lat":30,"v":-0.075},{"p":"g","lon":60,"lat":30,"v":-0.075},{"p":"g","lon":61,"lat":30,"v":-0.075},{"p":"g","lon":62,"lat":30,"v":-0.125},{"p":"g","lon":63,"lat":30,"v":-0.125},
{"p":"g","lon":52,"lat":29,"v":-0.075},{"p":"g","lon":53,"lat":29,"v":-0.075},{"p":"g","lon":54,"lat":29,"v":-0.075},{"p":"g","lon":55,"lat":29,"v":-0.075},{"p":"g","lon":56,"lat":29,"v":-0.075},{"p":"g","lon":57,"lat":29,"v":-0.075},{"p":"g","lon":58,"lat":29,"v":-0.075},{"p":"g","lon":59,"lat":29,"v":-0.075},{"p":"g","lon":60,"lat":29,"v":-0.075},{"p":"g","lon":61,"lat":29,"v":-0.125},{"p":"g","lon":62,"lat":29,"v":-0.125},{"p":"g","lon":63,"lat":29,"v":-0.125},
{"p":"g","lon":52,"lat":28,"v":-0.075},{"p":"g","lon":53,"lat":28,"v":-0.075},{"p":"g","lon":54,"lat":28,"v":-0.075},{"p":"g","lon":55,"lat":28,"v":-0.075},{"p":"g","lon":56,"lat":28,"v":-0.075},{"p":"g","lon":57,"lat":28,"v":-0.075},{"p":"g","lon":58,"lat":28,"v":-0.075},{"p":"g","lon":59,"lat":28,"v":-0.075},{"p":"g","lon":60,"lat":28,"v":-0.125},{"p":"g","lon":61,"lat":28,"v":-0.125},{"p":"g","lon":62,"lat":28,"v":-0.125},{"p":"g","lon":63,"lat":28,"v":-0.125},
{"p":"g","lon":52,"lat":27,"v":-0.125},{"p":"g","lon":53,"lat":27,"v":-0.075},{"p":"g","lon":54,"lat":27,"v":-0.075},{"p":"g","lon":55,"lat":27,"v":-0.075},{"p":"g","lon":56,"lat":27,"v":-0.075},{"p":"g","lon":57,"lat":27,"v":-0.075},{"p":"g","lon":58,"lat":27,"v":-0.075},{"p":"g","lon":59,"lat":27,"v":-0.125},{"p":"g","lon":60,"lat":27,"v":-0.125},{"p":"g","lon":61,"lat":27,"v":-0.125},{"p":"g","lon":62,"lat":27,"v":-0.125},{"p":"g","lon":63,"lat":27,"v":-0.125},
{"p":"g","lon":52,"lat":26,"v":-0.125},{"p":"g","lon":53,"lat":26,"v":-0.075},{"p":"g","lon":54,"lat":26,"v":-0.075},{"p":"g","lon":55,"lat":26,"v":-0.075},{"p":"g","lon":56,"lat":26,"v":-0.075},{"p":"g","lon":57,"lat":26,"v":-0.125},{"p":"g","lon":58,"lat":26,"v":-0.125},{"p":"g","lon":59,"lat":26,"v":-0.125},{"p":"g","lon":60,"lat":26,"v":-0.125},{"p":"g","lon":61,"lat":26,"v":-0.125},{"p":"g","lon":62,"lat":26,"v":-0.125},{"p":"g","lon":63,"lat":26,"v":-0.125},
{"p":"g","lon":52,"lat":25,"v":-0.125},{"p":"g","lon":53,"lat":25,"v":-0.125},{"p":"g","lon":54,"lat":25,"v":-0.125},{"p":"g","lon":55,"lat":25,"v":-0.125},{"p":"g","lon":56,"lat":25,"v":-0.125},{"p":"g","lon":57,"lat":25,"v":-0.125},{"p":"g","lon":58,"lat":25,"v":-0.125},{"p":"g","lon":59,"lat":25,"v":-0.125},{"p":"g","lon":60,"lat":25,"v":-0.125},{"p":"g","lon":61,"lat":25,"v":-0.125},{"p":"g","lon":62,"lat":25,"v":-0.125},{"p":"g","lon":63,"lat":25,"v":-0.125},
{"p":"h","lon":52,"lat":32,"v":-0.075},{"p":"h","lon":53,"lat":32,"v":-0.075},{"p":"h","lon":54,"lat":32,"v":-0.075},{"p":"h","lon":55,"lat":32,"v":-0.075},{"p":"h","lon":56,"lat":32,"v":-0.075},{"p":"h","lon":57,"lat":32,"v":-0.075},{"p":"h","lon":58,"lat":32,"v":-0.075},{"p":"h","lon":59,"lat":32,"v":-0.075},{"p":"h","lon":60,"lat":32,"v":-0.075},{"p":"h","lon":61,"lat":32,"v":-0.075},{"p":"h","lon":62,"lat":32,"v":-0.125},{"p":"h","lon":63,"lat":32,"v":-0.125},
{"p":"h","lon":52,"lat":31,"v":-0.075},{"p":"h","lon":53,"lat":31,"v":-0.075},{"p":"h","lon":54,"lat":31,"v":-0.075},{"p":"h","lon":55,"lat":31,"v":-0.075},{"p":"h","lon":56,"lat":31,"v":-0.075},{"p":"h","lon":57,"lat":31,"v":-0.075},{"p":"h","lon":58,"lat":31,"v":-0.075},{"p":"h","lon":59,"lat":31,"v":-0.075},{"p":"h","lon":60,"lat":31,"v":-0.075},{"p":"h","lon":61,"lat":31,"v":-0.075},{"p":"h","lon":62,"lat":31,"v":-0.125},{"p":"h","lon":63,"lat":31,"v":-0.125},
{"p":"h","lon":52,"lat":30,"v":-0.075},{"p":"h","lon":53,"lat":30,"v":-0.075},{"p":"h","lon":54,"lat":30,"v":-0.075},{"p":"h","lon":55,"lat":30,"v":-0.075},{"p":"h","lon":56,"lat":30,"v":-0.075},{"p":"h","lon":57,"lat":30,"v":-0.075},{"p":"h","lon":58,"lat":30,"v":-0.075},{"p":"h","lon":59,"lat":30,"v":-0.075},{"p":"h","lon":60,"lat":30,"v":-0.075},{"p":"h","lon":61,"lat":30,"v":-0.075},{"p":"h","lon":62,"lat":30,"v":-0.125},{"p":"h","lon":63,"lat":30,"v":-0.125},
{"p":"h","lon":52,"lat":29,"v":-0.075},{"p":"h","lon":53,"lat":29,"v":-0.075},{"p":"h","lon":54,"lat":29,"v":-0.075},{"p":"h","lon":55,"lat":29,"v":-0.075},{"p":"h","lon":56,"lat":29,"v":-0.075},{"p":"h","lon":57,"lat":29,"v":-0.075},{"p":"h","lon":58,"lat":29,"v":-0.075},{"p":"h","lon":59,"lat":29,"v":-0.075},{"p":"h","lon":60,"lat":29,"v":-0.075},{"p":"h","lon":61,"lat":29,"v":-0.125},{"p":"h","lon":62,"lat":29,"v":-0.125},{"p":"h","lon":63,"lat":29,"v":-0.125},
{"p":"h","lon":52,"lat":28,"v":-0.075},{"p":"h","lon":53,"lat":28,"v":-0.075},{"p":"h","lon":54,"lat":28,"v":-0.075},{"p":"h","lon":55,"lat":28,"v":-0.075},{"p":"h","lon":56,"lat":28,"v":-0.075},{"p":"h","lon":57,"lat":28,"v":-0.075},{"p":"h","lon":58,"lat":28,"v":-0.075},{"p":"h","lon":59,"lat":28,"v":-0.075},{"p":"h","lon":60,"lat":28,"v":-0.075},{"p":"h","lon":61,"lat":28,"v":-0.125},{"p":"h","lon":62,"lat":28,"v":-0.125},{"p":"h","lon":63,"lat":28,"v":-0.175},
{"p":"h","lon":52,"lat":27,"v":-0.075},{"p":"h","lon":53,"lat":27,"v":-0.075},{"p":"h","lon":54,"lat":27,"v":-0.075},{"p":"h","lon":55,"lat":27,"v":-0.075},{"p":"h","lon":56,"lat":27,"v":-0.075},{"p":"h","lon":57,"lat":27,"v":-0.075},{"p":"h","lon":58,"lat":27,"v":-0.075},{"p":"h","lon":59,"lat":27,"v":-0.075},{"p":"h","lon":60,"lat":27,"v":-0.075},{"p":"h","lon":61,"lat":27,"v":-0.125},{"p":"h","lon":62,"lat":27,"v":-0.125},{"p":"h","lon":63,"lat":27,"v":-0.125},
{"p":"h","lon":52,"lat":26,"v":-0.075},{"p":"h","lon":53,"lat":26,"v":-0.075},{"p":"h","lon":54,"lat":26,"v":-0.075},{"p":"h","lon":55,"lat":26,"v":-0.075},{"p":"h","lon":56,"lat":26,"v":-0.075},{"p":"h","lon":57,"lat":26,"v":-0.075},{"p":"h","lon":58,"lat":26,"v":-0.075},{"p":"h","lon":59,"lat":26,"v":-0.075},{"p":"h","lon":60,"lat":26,"v":-0.075},{"p":"h","lon":61,"lat":26,"v":-0.125},{"p":"h","lon":62,"lat":26,"v":-0.125},{"p":"h","lon":63,"lat":26,"v":-0.125},
{"p":"h","lon":52,"lat":25,"v":-0.075},{"p":"h","lon":53,"lat":25,"v":-0.075},{"p":"h","lon":54,"lat":25,"v":-0.075},{"p":"h","lon":55,"lat":25,"v":-0.075},{"p":"h","lon":56,"lat":25,"v":-0.075},{"p":"h","lon":57,"lat":25,"v":-0.075},{"p":"h","lon":58,"lat":25,"v":-0.075},{"p":"h","lon":59,"lat":25,"v":-0.075},{"p":"h","lon":60,"lat":25,"v":-0.075},{"p":"h","lon":61,"lat":25,"v":-0.125},{"p":"h","lon":62,"lat":25,"v":-0.125},{"p":"h","lon":63,"lat":25,"v":-0.125},
{"p":"i","lon":52,"lat":32,"v":-0.075},{"p":"i","lon":53,"lat":32,"v":-0.075},{"p":"i","lon":54,"lat":32,"v":-0.075},{"p":"i","lon":55,"lat":32,"v":-0.075},{"p":"i","lon":56,"lat":32,"v":-0.075},{"p":"i","lon":57,"lat":32,"v":-0.075},{"p":"i","lon":58,"lat":32,"v":-0.075},{"p":"i","lon":59,"lat":32,"v":-0.075},{"p":"i","lon":60,"lat":32,"v":-0.075},{"p":"i","lon":61,"lat":32,"v":-0.075},{"p":"i","lon":62,"lat":32,"v":-0.075},{"p":"i","lon":63,"lat":32,"v":-0.125},
{"p":"i","lon":52,"lat":31,"v":-0.075},{"p":"i","lon":53,"lat":31,"v":-0.075},{"p":"i","lon":54,"lat":31,"v":-0.075},{"p":"i","lon":55,"lat":31,"v":-0.075},{"p":"i","lon":56,"lat":31,"v":-0.075},{"p":"i","lon":57,"lat":31,"v":-0.075},{"p":"i","lon":58,"lat":31,"v":-0.075},{"p":"i","lon":59,"lat":31,"v":-0.075},{"p":"i","lon":60,"lat":31,"v":-0.075},{"p":"i","lon":61,"lat":31,"v":-0.075},{"p":"i","lon":62,"lat":31,"v":-0.125},{"p":"i","lon":63,"lat":31,"v":-0.125},
{"p":"i","lon":52,"lat":30,"v":-0.075},{"p":"i","lon":53,"lat":30,"v":-0.075},{"p":"i","lon":54,"lat":30,"v":-0.075},{"p":"i","lon":55,"lat":30,"v":-0.075},{"p":"i","lon":56,"lat":30,"v":-0.075},{"p":"i","lon":57,"lat":30,"v":-0.075},{"p":"i","lon":58,"lat":30,"v":-0.075},{"p":"i","lon":59,"lat":30,"v":-0.075},{"p":"i","lon":60,"lat":30,"v":-0.075},{"p":"i","lon":61,"lat":30,"v":-0.125},{"p":"i","lon":62,"lat":30,"v":-0.125},{"p":"i","lon":63,"lat":30,"v":-0.125},
{"p":"i","lon":52,"lat":29,"v":-0.075},{"p":"i","lon":53,"lat":29,"v":-0.075},{"p":"i","lon":54,"lat":29,"v":-0.075},{"p":"i","lon":55,"lat":29,"v":-0.075},{"p":"i","lon":56,"lat":29,"v":-0.075},{"p":"i","lon":57,"lat":29,"v":-0.075},{"p":"i","lon":58,"lat":29,"v":-0.075},{"p":"i","lon":59,"lat":29,"v":-0.075},{"p":"i","lon":60,"lat":29,"v":-0.075},{"p":"i","lon":61,"lat":29,"v":-0.125},{"p":"i","lon":62,"lat":29,"v":-0.125},{"p":"i","lon":63,"lat":29,"v":-0.175},
{"p":"i","lon":52,"lat":28,"v":-0.075},{"p":"i","lon":53,"lat":28,"v":-0.075},{"p":"i","lon":54,"lat":28,"v":-0.075},{"p":"i","lon":55,"lat":28,"v":-0.025},{"p":"i","lon":56,"lat":28,"v":-0.075},{"p":"i","lon":57,"lat":28,"v":-0.075},{"p":"i","lon":58,"lat":28,"v":-0.075},{"p":"i","lon":59,"lat":28,"v":-0.075},{"p":"i","lon":60,"lat":28,"v":-0.075},{"p":"i","lon":61,"lat":28,"v":-0.125},{"p":"i","lon":62,"lat":28,"v":-0.125},{"p":"i","lon":63,"lat":28,"v":-0.175},
{"p":"i","lon":52,"lat":27,"v":-0.075},{"p":"i","lon":53,"lat":27,"v":-0.075},{"p":"i","lon":54,"lat":27,"v":-0.075},{"p":"i","lon":55,"lat":27,"v":-0.075},{"p":"i","lon":56,"lat":27,"v":-0.075},{"p":"i","lon":57,"lat":27,"v":-0.075},{"p":"i","lon":58,"lat":27,"v":-0.075},{"p":"i","lon":59,"lat":27,"v":-0.075},{"p":"i","lon":60,"lat":27,"v":-0.075},{"p":"i","lon":61,"lat":27,"v":-0.125},{"p":"i","lon":62,"lat":27,"v":-0.125},{"p":"i","lon":63,"lat":27,"v":-0.125},
{"p":"i","lon":52,"lat":26,"v":-0.075},{"p":"i","lon":53,"lat":26,"v":-0.075},{"p":"i","lon":54,"lat":26,"v":-0.075},{"p":"i","lon":55,"lat":26,"v":-0.075},{"p":"i","lon":56,"lat":26,"v":-0.075},{"p":"i","lon":57,"lat":26,"v":-0.075},{"p":"i","lon":58,"lat":26,"v":-0.075},{"p":"i","lon":59,"lat":26,"v":-0.075},{"p":"i","lon":60,"lat":26,"v":-0.075},{"p":"i","lon":61,"lat":26,"v":-0.125},{"p":"i","lon":62,"lat":26,"v":-0.125},{"p":"i","lon":63,"lat":26,"v":-0.125},
{"p":"i","lon":52,"lat":25,"v":-0.075},{"p":"i","lon":53,"lat":25,"v":-0.075},{"p":"i","lon":54,"lat":25,"v":-0.075},{"p":"i","lon":55,"lat":25,"v":-0.075},{"p":"i","lon":56,"lat":25,"v":-0.075},{"p":"i","lon":57,"lat":25,"v":-0.075},{"p":"i","lon":58,"lat":25,"v":-0.075},{"p":"i","lon":59,"lat":25,"v":-0.075},{"p":"i","lon":60,"lat":25,"v":-0.075},{"p":"i","lon":61,"lat":25,"v":-0.125},{"p":"i","lon":62,"lat":25,"v":-0.125},{"p":"i","lon":63,"lat":25,"v":-0.125},
{"p":"j","lon":52,"lat":32,"v":-0.075},{"p":"j","lon":53,"lat":32,"v":-0.075},{"p":"j","lon":54,"lat":32,"v":-0.075},{"p":"j","lon":55,"lat":32,"v":-0.075},{"p":"j","lon":56,"lat":32,"v":-0.075},{"p":"j","lon":57,"lat":32,"v":-0.075},{"p":"j","lon":58,"lat":32,"v":-0.075},{"p":"j","lon":59,"lat":32,"v":-0.075},{"p":"j","lon":60,"lat":32,"v":-0.075},{"p":"j","lon":61,"lat":32,"v":-0.075},{"p":"j","lon":62,"lat":32,"v":-0.075},{"p":"j","lon":63,"lat":32,"v":-0.125},
{"p":"j","lon":52,"lat":31,"v":-0.075},{"p":"j","lon":53,"lat":31,"v":-0.075},{"p":"j","lon":54,"lat":31,"v":-0.075},{"p":"j","lon":55,"lat":31,"v":-0.075},{"p":"j","lon":56,"lat":31,"v":-0.075},{"p":"j","lon":57,"lat":31,"v":-0.075},{"p":"j","lon":58,"lat":31,"v":-0.075},{"p":"j","lon":59,"lat":31,"v":-0.075},{"p":"j","lon":60,"lat":31,"v":-0.075},{"p":"j","lon":61,"lat":31,"v":-0.075},{"p":"j","lon":62,"lat":31,"v":-0.125},{"p":"j","lon":63,"lat":31,"v":-0.125},
{"p":"j","lon":52,"lat":30,"v":-0.075},{"p":"j","lon":53,"lat":30,"v":-0.075},{"p":"j","lon":54,"lat":30,"v":-0.075},{"p":"j","lon":55,"lat":30,"v":-0.075},{"p":"j","lon":56,"lat":30,"v":-0.075},{"p":"j","lon":57,"lat":30,"v":-0.075},{"p":"j","lon":58,"lat":30,"v":-0.075},{"p":"j","lon":59,"lat":30,"v":-0.075},{"p":"j","lon":60,"lat":30,"v":-0.075},{"p":"j","lon":61,"lat":30,"v":-0.075},{"p":"j","lon":62,"lat":30,"v":-0.125},{"p":"j","lon":63,"lat":30,"v":-0.125},
{"p":"j","lon":52,"lat":29,"v":-0.075},{"p":"j","lon":53,"lat":29,"v":-0.075},{"p":"j","lon":54,"lat":29,"v":-0.075},{"p":"j","lon":55,"lat":29,"v":-0.025},{"p":"j","lon":56,"lat":29,"v":-0.075},{"p":"j","lon":57,"lat":29,"v":-0.075},{"p":"j","lon":58,"lat":29,"v":-0.075},{"p":"j","lon":59,"lat":29,"v":-0.075},{"p":"j","lon":60,"lat":29,"v":-0.075},{"p":"j","lon":61,"lat":29,"v":-0.125},{"p":"j","lon":62,"lat":29,"v":-0.125},{"p":"j","lon":63,"lat":29,"v":-0.175},
{"p":"j","lon":52,"lat":28,"v":-0.075},{"p":"j","lon":53,"lat":28,"v":-0.075},{"p":"j","lon":54,"lat":28,"v":-0.075},{"p":"j","lon":55,"lat":28,"v":-0.025},{"p":"j","lon":56,"lat":28,"v":-0.025},{"p":"j","lon":57,"lat":28,"v":-0.025},{"p":"j","lon":58,"lat":28,"v":-0.075},{"p":"j","lon":59,"lat":28,"v":-0.075},{"p":"j","lon":60,"lat":28,"v":-0.075},{"p":"j","lon":61,"lat":28,"v":-0.125},{"p":"j","lon":62,"lat":28,"v":-0.125},{"p":"j","lon":63,"lat":28,"v":-0.175},
{"p":"j","lon":52,"lat":27,"v":-0.075},{"p":"j","lon":53,"lat":27,"v":-0.075},{"p":"j","lon":54,"lat":27,"v":-0.075},{"p":"j","lon":55,"lat":27,"v":-0.075},{"p":"j","lon":56,"lat":27,"v":-0.075},{"p":"j","lon":57,"lat":27,"v":-0.075},{"p":"j","lon":58,"lat":27,"v":-0.075},{"p":"j","lon":59,"lat":27,"v":-0.075},{"p":"j","lon":60,"lat":27,"v":-0.075},{"p":"j","lon":61,"lat":27,"v":-0.125},{"p":"j","lon":62,"lat":27,"v":-0.125},{"p":"j","lon":63,"lat":27,"v":-0.125},
{"p":"j","lon":52,"lat":26,"v":-0.075},{"p":"j","lon":53,"lat":26,"v":-0.075},{"p":"j","lon":54,"lat":26,"v":-0.075},{"p":"j","lon":55,"lat":26,"v":-0.075},{"p":"j","lon":56,"lat":26,"v":-0.075},{"p":"j","lon":57,"lat":26,"v":-0.125},{"p":"j","lon":58,"lat":26,"v":-0.075},{"p":"j","lon":59,"lat":26,"v":-0.075},{"p":"j","lon":60,"lat":26,"v":-0.125},{"p":"j","lon":61,"lat":26,"v":-0.125},{"p":"j","lon":62,"lat":26,"v":-0.125},{"p":"j","lon":63,"lat":26,"v":-0.125},
{"p":"j","lon":52,"lat":25,"v":-0.075},{"p":"j","lon":53,"lat":25,"v":-0.075},{"p":"j","lon":54,"lat":25,"v":-0.075},{"p":"j","lon":55,"lat":25,"v":-0.075},{"p":"j","lon":56,"lat":25,"v":-0.125},{"p":"j","lon":57,"lat":25,"v":-0.125},{"p":"j","lon":58,"lat":25,"v":-0.125},{"p":"j","lon":59,"lat":25,"v":-0.075},{"p":"j","lon":60,"lat":25,"v":-0.125},{"p":"j","lon":61,"lat":25,"v":-0.125},{"p":"j","lon":62,"lat":25,"v":-0.125},{"p":"j","lon":63,"lat":25,"v":-0.125},
{"p":"k","lon":52,"lat":32,"v":-0.075},{"p":"k","lon":53,"lat":32,"v":-0.075},{"p":"k","lon":54,"lat":32,"v":-0.075},{"p":"k","lon":55,"lat":32,"v":-0.075},{"p":"k","lon":56,"lat":32,"v":-0.075},{"p":"k","lon":57,"lat":32,"v":-0.075},{"p":"k","lon":58,"lat":32,"v":-0.075},{"p":"k","lon":59,"lat":32,"v":-0.075},{"p":"k","lon":60,"lat":32,"v":-0.075},{"p":"k","lon":61,"lat":32,"v":-0.075},{"p":"k","lon":62,"lat":32,"v":-0.075},{"p":"k","lon":63,"lat":32,"v":-0.125},
{"p":"k","lon":52,"lat":31,"v":-0.075},{"p":"k","lon":53,"lat":31,"v":-0.075},{"p":"k","lon":54,"lat":31,"v":-0.075},{"p":"k","lon":55,"lat":31,"v":-0.075},{"p":"k","lon":56,"lat":31,"v":-0.075},{"p":"k","lon":57,"lat":31,"v":-0.075},{"p":"k","lon":58,"lat":31,"v":-0.075},{"p":"k","lon":59,"lat":31,"v":-0.075},{"p":"k","lon":60,"lat":31,"v":-0.075},{"p":"k","lon":61,"lat":31,"v":-0.075},{"p":"k","lon":62,"lat":31,"v":-0.125},{"p":"k","lon":63,"lat":31,"v":-0.125},
{"p":"k","lon":52,"lat":30,"v":-0.075},{"p":"k","lon":53,"lat":30,"v":-0.075},{"p":"k","lon":54,"lat":30,"v":-0.075},{"p":"k","lon":55,"lat":30,"v":-0.075},{"p":"k","lon":56,"lat":30,"v":-0.075},{"p":"k","lon":57,"lat":30,"v":-0.075},{"p":"k","lon":58,"lat":30,"v":-0.075},{"p":"k","lon":59,"lat":30,"v":-0.075},{"p":"k","lon":60,"lat":30,"v":-0.075},{"p":"k","lon":61,"lat":30,"v":-0.075},{"p":"k","lon":62,"lat":30,"v":-0.125},{"p":"k","lon":63,"lat":30,"v":-0.125},
{"p":"k","lon":52,"lat":29,"v":-0.075},{"p":"k","lon":53,"lat":29,"v":-0.075},{"p":"k","lon":54,"lat":29,"v":-0.025},{"p":"k","lon":55,"lat":29,"v":-0.025},{"p":"k","lon":56,"lat":29,"v":-0.025},{"p":"k","lon":57,"lat":29,"v":-0.075},{"p":"k","lon":58,"lat":29,"v":-0.075},{"p":"k","lon":59,"lat":29,"v":-0.075},{"p":"k","lon":60,"lat":29,"v":-0.075},{"p":"k","lon":61,"lat":29,"v":-0.125},{"p":"k","lon":62,"lat":29,"v":-0.125},{"p":"k","lon":63,"lat":29,"v":-0.175},
{"p":"k","lon":52,"lat":28,"v":-0.075},{"p":"k","lon":53,"lat":28,"v":-0.075},{"p":"k","lon":54,"lat":28,"v":-0.025},{"p":"k","lon":55,"lat":28,"v":-0.025},{"p":"k","lon":56,"lat":28,"v":-0.025},{"p":"k","lon":57,"lat":28,"v":-0.025},{"p":"k","lon":58,"lat":28,"v":-0.075},{"p":"k","lon":59,"lat":28,"v":-0.075},{"p":"k","lon":60,"lat":28,"v":-0.075},{"p":"k","lon":61,"lat":28,"v":-0.125},{"p":"k","lon":62,"lat":28,"v":-0.125},{"p":"k","lon":63,"lat":28,"v":-0.175},
{"p":"k","lon":52,"lat":27,"v":-0.075},{"p":"k","lon":53,"lat":27,"v":-0.075},{"p":"k","lon":54,"lat":27,"v":-0.075},{"p":"k","lon":55,"lat":27,"v":-0.075},{"p":"k","lon":56,"lat":27,"v":-0.075},{"p":"k","lon":57,"lat":27,"v":-0.075},{"p":"k","lon":58,"lat":27,"v":-0.075},{"p":"k","lon":59,"lat":27,"v":-0.075},{"p":"k","lon":60,"lat":27,"v":-0.075},{"p":"k","lon":61,"lat":27,"v":-0.125},{"p":"k","lon":62,"lat":27,"v":-0.125},{"p":"k","lon":63,"lat":27,"v":-0.175},
{"p":"k","lon":52,"lat":26,"v":-0.075},{"p":"k","lon":53,"lat":26,"v":-0.075},{"p":"k","lon":54,"lat":26,"v":-0.075},{"p":"k","lon":55,"lat":26,"v":-0.075},{"p":"k","lon":56,"lat":26,"v":-0.125},{"p":"k","lon":57,"lat":26,"v":-0.125},{"p":"k","lon":58,"lat":26,"v":-0.075},{"p":"k","lon":59,"lat":26,"v":-0.075},{"p":"k","lon":60,"lat":26,"v":-0.125},{"p":"k","lon":61,"lat":26,"v":-0.125},{"p":"k","lon":62,"lat":26,"v":-0.125},{"p":"k","lon":63,"lat":26,"v":-0.125},
{"p":"k","lon":52,"lat":25,"v":-0.075},{"p":"k","lon":53,"lat":25,"v":-0.075},{"p":"k","lon":54,"lat":25,"v":-0.125},{"p":"k","lon":55,"lat":25,"v":-0.125},{"p":"k","lon":56,"lat":25,"v":-0.125},{"p":"k","lon":57,"lat":25,"v":-0.125},{"p":"k","lon":58,"lat":25,"v":-0.125},{"p":"k","lon":59,"lat":25,"v":-0.075},{"p":"k","lon":60,"lat":25,"v":-0.125},{"p":"k","lon":61,"lat":25,"v":-0.125},{"p":"k","lon":62,"lat":25,"v":-0.125},{"p":"k","lon":63,"lat":25,"v":-0.125},
{"p":"l","lon":52,"lat":32,"v":-0.075},{"p":"l","lon":53,"lat":32,"v":-0.075},{"p":"l","lon":54,"lat":32,"v":-0.075},{"p":"l","lon":55,"lat":32,"v":-0.075},{"p":"l","lon":56,"lat":32,"v":-0.075},{"p":"l","lon":57,"lat":32,"v":-0.075},{"p":"l","lon":58,"lat":32,"v":-0.075},{"p":"l","lon":59,"lat":32,"v":-0.075},{"p":"l","lon":60,"lat":32,"v":-0.075},{"p":"l","lon":61,"lat":32,"v":-0.075},{"p":"l","lon":62,"lat":32,"v":-0.075},{"p":"l","lon":63,"lat":32,"v":-0.125},
{"p":"l","lon":52,"lat":31,"v":-0.075},{"p":"l","lon":53,"lat":31,"v":-0.075},{"p":"l","lon":54,"lat":31,"v":-0.075},{"p":"l","lon":55,"lat":31,"v":-0.075},{"p":"l","lon":56,"lat":31,"v":-0.075},{"p":"l","lon":57,"lat":31,"v":-0.075},{"p":"l","lon":58,"lat":31,"v":-0.075},{"p":"l","lon":59,"lat":31,"v":-0.075},{"p":"l","lon":60,"lat":31,"v":-0.075},{"p":"l","lon":61,"lat":31,"v":-0.075},{"p":"l","lon":62,"lat":31,"v":-0.125},{"p":"l","lon":63,"lat":31,"v":-0.125},
{"p":"l","lon":52,"lat":30,"v":-0.075},{"p":"l","lon":53,"lat":30,"v":-0.075},{"p":"l","lon":54,"lat":30,"v":-0.075},{"p":"l","lon":55,"lat":30,"v":-0.075},{"p":"l","lon":56,"lat":30,"v":-0.075},{"p":"l","lon":57,"lat":30,"v":-0.075},{"p":"l","lon":58,"lat":30,"v":-0.075},{"p":"l","lon":59,"lat":30,"v":-0.075},{"p":"l","lon":60,"lat":30,"v":-0.075},{"p":"l","lon":61,"lat":30,"v":-0.125},{"p":"l","lon":62,"lat":30,"v":-0.125},{"p":"l","lon":63,"lat":30,"v":-0.125},
{"p":"l","lon":52,"lat":29,"v":-0.075},{"p":"l","lon":53,"lat":29,"v":-0.075},{"p":"l","lon":54,"lat":29,"v":-0.075},{"p":"l","lon":55,"lat":29,"v":-0.025},{"p":"l","lon":56,"lat":29,"v":-0.075},{"p":"l","lon":57,"lat":29,"v":-0.075},{"p":"l","lon":58,"lat":29,"v":-0.075},{"p":"l","lon":59,"lat":29,"v":-0.075},{"p":"l","lon":60,"lat":29,"v":-0.075},{"p":"l","lon":61,"lat":29,"v":-0.125},{"p":"l","lon":62,"lat":29,"v":-0.125},{"p":"l","lon":63,"lat":29,"v":-0.175},
{"p":"l","lon":52,"lat":28,"v":-0.075},{"p":"l","lon":53,"lat":28,"v":-0.075},{"p":"l","lon":54,"lat":28,"v":-0.075},{"p":"l","lon":55,"lat":28,"v":-0.025},{"p":"l","lon":56,"lat":28,"v":-0.025},{"p":"l","lon":57,"lat":28,"v":-0.025},{"p":"l","lon":58,"lat":28,"v":-0.025},{"p":"l","lon":59,"lat":28,"v":-0.075},{"p":"l","lon":60,"lat":28,"v":-0.075},{"p":"l","lon":61,"lat":28,"v":-0.125},{"p":"l","lon":62,"lat":28,"v":-0.125},{"p":"l","lon":63,"lat":28,"v":-0.175},
{"p":"l","lon":52,"lat":27,"v":-0.075},{"p":"l","lon":53,"lat":27,"v":-0.075},{"p":"l","lon":54,"lat":27,"v":-0.075},{"p":"l","lon":55,"lat":27,"v":-0.075},{"p":"l","lon":56,"lat":27,"v":-0.075},{"p":"l","lon":57,"lat":27,"v":-0.075},{"p":"l","lon":58,"lat":27,"v":-0.075},{"p":"l","lon":59,"lat":27,"v":-0.075},{"p":"l","lon":60,"lat":27,"v":-0.075},{"p":"l","lon":61,"lat":27,"v":-0.125},{"p":"l","lon":62,"lat":27,"v":-0.125},{"p":"l","lon":63,"lat":27,"v":-0.125},
{"p":"l","lon":52,"lat":26,"v":-0.075},{"p":"l","lon":53,"lat":26,"v":-0.075},{"p":"l","lon":54,"lat":26,"v":-0.075},{"p":"l","lon":55,"lat":26,"v":-0.075},{"p":"l","lon":56,"lat":26,"v":-0.075},{"p":"l","lon":57,"lat":26,"v":-0.125},{"p":"l","lon":58,"lat":26,"v":-0.075},{"p":"l","lon":59,"lat":26,"v":-0.075},{"p":"l","lon":60,"lat":26,"v":-0.125},{"p":"l","lon":61,"lat":26,"v":-0.125},{"p":"l","lon":62,"lat":26,"v":-0.175},{"p":"l","lon":63,"lat":26,"v":-0.175},
{"p":"l","lon":52,"lat":25,"v":-0.075},{"p":"l","lon":53,"lat":25,"v":-0.075},{"p":"l","lon":54,"lat":25,"v":-0.075},{"p":"l","lon":55,"lat":25,"v":-0.125},{"p":"l","lon":56,"lat":25,"v":-0.125},{"p":"l","lon":57,"lat":25,"v":-0.125},{"p":"l","lon":58,"lat":25,"v":-0.075},{"p":"l","lon":59,"lat":25,"v":-0.075},{"p":"l","lon":60,"lat":25,"v":-0.125},{"p":"l","lon":61,"lat":25,"v":-0.125},{"p":"l","lon":62,"lat":25,"v":-0.175},{"p":"l","lon":63,"lat":25,"v":-0.175}
]},
"facet":{"field":"p","type":"nominal","header":{"title":null,"labelExpr":"''","labelFontSize":1,"labelPadding":0}},"columns":3,"bounds":"flush","spacing":{"row":85,"column":74},
"resolve":{"axis":{"x":"independent","y":"independent"}},
"spec":{"width":292,"height":217,
"layer":[
{"transform":[{"calculate":"max(datum.lon-0.5,52)","as":"x0"},{"calculate":"min(datum.lon+0.5,63)","as":"x1"},{"calculate":"max(datum.lat-0.5,25)","as":"y0"},{"calculate":"min(datum.lat+0.5,32)","as":"y1"}],
"mark":{"type":"rect","strokeWidth":0.6},
"encoding":{
"x":{"field":"x0","type":"quantitative","title":null,"scale":{"domain":[51.55,63.45],"nice":false,"zero":false},"axis":{"orient":"top","values":[52,54,56,58,60,62],"labelExpr":"datum.value+'°'","grid":false,"ticks":false,"domain":false,"labelFontSize":20,"labelFont":"Liberation Sans","labelColor":"#111","labelPadding":2,"labelFlush":false}},
"x2":{"field":"x1"},
"y":{"field":"y0","type":"quantitative","title":null,"scale":{"domain":[24.57,32.4],"nice":false,"zero":false},"axis":{"orient":"left","values":[26,28,30,32],"labelExpr":"datum.value+'°'","grid":false,"ticks":false,"domain":false,"labelFontSize":20,"labelFont":"Liberation Sans","labelColor":"#111","labelPadding":8,"labelFlush":false}},
"y2":{"field":"y1"},
"color":{"field":"v","type":"quantitative","legend":null,"scale":{"type":"threshold","domain":[-0.15,-0.1,-0.05,0,0.05,0.1,0.15],"range":["#A010B4","#0000B0","#0066E0","#00BFA5","#00C81E","#50D200","#FFDC00","#FF4500"]}},
"stroke":{"field":"v","type":"quantitative","legend":null,"scale":{"type":"threshold","domain":[-0.15,-0.1,-0.05,0,0.05,0.1,0.15],"range":["#A010B4","#0000B0","#0066E0","#00BFA5","#00C81E","#50D200","#FFDC00","#FF4500"]}}}},
{"data":{"name":"gx"},"mark":{"type":"rule","color":"#0a0a20","strokeWidth":0.9},"encoding":{"x":{"field":"g","type":"quantitative"},"y":{"datum":25},"y2":{"datum":32}}},
{"data":{"name":"gy"},"mark":{"type":"rule","color":"#0a0a20","strokeWidth":0.9},"encoding":{"y":{"field":"g","type":"quantitative"},"x":{"datum":52},"x2":{"datum":63}}},
{"mark":{"type":"point","filled":true,"color":"black","size":38,"opacity":1},"encoding":{"x":{"field":"lon","type":"quantitative"},"y":{"field":"lat","type":"quantitative"}}},
{"data":{"name":"coast"},"mark":{"type":"line","color":"black","strokeWidth":3.2,"strokeJoin":"round"},"encoding":{"x":{"field":"lon","type":"quantitative"},"y":{"field":"lat","type":"quantitative"},"detail":{"field":"s"},"order":{"field":"o"}}},
{"data":{"name":"border"},"mark":{"type":"line","color":"#E8101E","strokeWidth":3,"strokeJoin":"round"},"encoding":{"x":{"field":"lon","type":"quantitative"},"y":{"field":"lat","type":"quantitative"},"detail":{"field":"s"},"order":{"field":"o"}}},
{"data":{"name":"frame"},"mark":{"type":"rect","stroke":"#222","strokeWidth":0.9},"encoding":{"x":{"field":"a","type":"quantitative"},"x2":{"field":"b"},"y":{"field":"c","type":"quantitative"},"y2":{"field":"d"},"color":{"field":"f","type":"nominal","scale":null}}},
{"transform":[{"filter":"datum.lon==57&&datum.lat==32"},{"calculate":"datum.p+')'","as":"t"}],"mark":{"type":"text","fontSize":22,"font":"Liberation Sans","color":"#111","baseline":"middle","align":"center"},"encoding":{"x":{"datum":57.47},"y":{"datum":33.88},"text":{"field":"t"}}}
]}},
{"width":800,"height":23,
"layer":[
{"data":{"name":"bar"},"mark":{"type":"rect","strokeWidth":0.5},"encoding":{
"x":{"field":"lo","type":"quantitative","title":null,"scale":{"domain":[-0.5154,0.2907],"nice":false,"zero":false},"axis":{"values":[-0.2,-0.1,0,0.1,0.2],"labelExpr":"replace(format(datum.value,'.1f'),'-','−')","grid":false,"domain":false,"tickSize":11,"tickWidth":1.5,"tickColor":"#111","labelFontSize":20,"labelFont":"Liberation Sans","labelColor":"#111","labelPadding":3,"labelFlush":false}},
"x2":{"field":"hi"},
"color":{"field":"v","type":"quantitative","legend":null,"scale":{"type":"threshold","domain":[-0.15,-0.1,-0.05,0,0.05,0.1,0.15],"range":["#A010B4","#0000B0","#0066E0","#00BFA5","#00C81E","#50D200","#FFDC00","#FF4500"]}}}},
{"data":{"values":[{"lo":-0.2,"hi":0.2}]},"mark":{"type":"rect","fill":{"x1":0,"y1":0,"x2":0,"y2":1,"gradient":"linear","stops":[{"offset":0,"color":"rgba(255,255,255,0.4)"},{"offset":0.4,"color":"rgba(255,255,255,0)"},{"offset":0.55,"color":"rgba(0,0,0,0)"},{"offset":1,"color":"rgba(0,0,0,0.55)"}]},"stroke":"black","strokeWidth":3},"encoding":{"x":{"field":"lo","type":"quantitative"},"x2":{"field":"hi"}}},
{"data":{"values":[{"e":-0.2085}]},"mark":{"type":"point","shape":"triangle-left","filled":true,"color":"black","size":380,"opacity":1},"encoding":{"x":{"field":"e","type":"quantitative"}}},
{"data":{"values":[{"e":0.2075}]},"mark":{"type":"point","shape":"triangle-right","filled":true,"fill":"white","stroke":"black","strokeWidth":3,"size":260,"opacity":1},"encoding":{"x":{"field":"e","type":"quantitative"}}},
{"data":{"values":[{"e":0.2155,"t":"km/s"}]},"mark":{"type":"text","align":"left","baseline":"middle","fontSize":20,"font":"Liberation Sans","color":"#111"},"encoding":{"x":{"field":"e","type":"quantitative"},"text":{"field":"t"}}}
]}
]}
